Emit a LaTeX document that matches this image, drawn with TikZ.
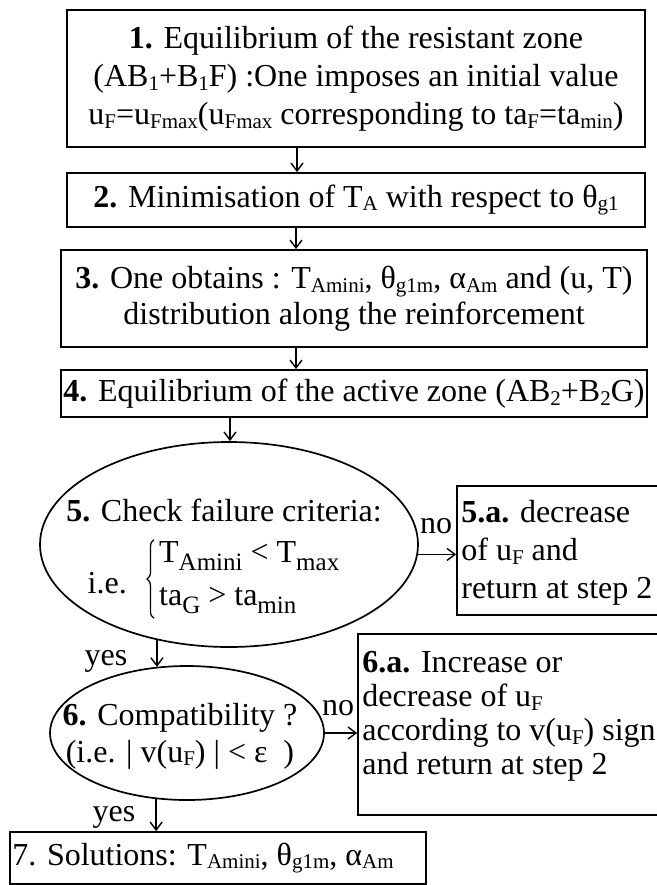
\documentclass[tikz,border=0pt]{standalone}
\usepackage{fontspec}
\setmainfont{Liberation Serif}
\usetikzlibrary{shapes.geometric,arrows.meta,decorations.pathreplacing}
\newcommand\sbs[1]{\raisebox{-0.12em}{\fontsize{21}{21}\selectfont #1}}
\newcommand\sbb[1]{\raisebox{-0.25em}{\fontsize{25}{25}\selectfont #1}}
\begin{document}
\begin{tikzpicture}[x=1pt,y=-1pt,
  box/.style={draw, line width=1.7pt, inner sep=0pt},
  txt/.style={font=\fontsize{32}{38}\selectfont, inner sep=0pt, align=center},
  arr/.style={-{Straight Barb[length=8pt,width=12pt]}, line width=1.4pt},
  ell/.style={draw, ellipse, line width=1.7pt, inner sep=0pt},
  bracestyle/.style={decorate, decoration={brace, amplitude=7pt}, line width=1.2pt},
]
\useasboundingbox (0,0) rectangle (656,885);
% boxes
\node[box, txt, minimum width=578pt, minimum height=137pt] (b1) at (356,78.5)
  {\textbf{1.} Equilibrium of the resistant zone\\(AB\sbs{1}+B\sbs{1}F) :One imposes an initial value\\u\sbs{F}=u\sbs{Fmax}(u\sbs{Fmax} corresponding to ta\sbs{F}=ta\sbs{min})};
\node[box, txt, minimum width=578pt, minimum height=54pt] (b2) at (356,200)
  {\textbf{2.} Minimisation of T\sbs{A} with respect to θ\sbs{g1}};
\node[box, txt, font=\fontsize{32}{36}\selectfont, minimum width=586pt, minimum height=97pt] (b3) at (354,298.5)
  {\textbf{3.} One obtains : T\sbs{Amini}, θ\sbs{g1m}, α\sbs{Am} and (u, T)\\distribution along the reinforcement};
\node[box, txt, minimum width=586pt, minimum height=47pt] (b4) at (354,393.5)
  {\textbf{4.} Equilibrium of the active zone (AB\sbs{2}+B\sbs{2}G)};
\node[box, minimum width=208pt, minimum height=129pt] (b5a) at (561,550.5) {};
\node[txt, align=left, anchor=west] (t5a) at ([xshift=5pt,yshift=-2pt]b5a.west)
  {\textbf{5.a.} decrease\\of u\sbs{F} and\\return at step 2};
\node[box, minimum width=307pt, minimum height=181pt] (b6a) at (511.5,724.5) {};
\node[txt, font=\fontsize{32}{34}\selectfont, align=left, anchor=west] (t6a) at ([xshift=5pt,yshift=8pt]b6a.west)
  {\textbf{6.a.} Increase or\\decrease of u\sbs{F}\\according to v(u\sbs{F}) sign\\and return at step 2};
\node[box, minimum width=416pt, minimum height=52pt] (b7) at (218,858) {};
\node[txt, anchor=west] (t7) at ([xshift=3pt]b7.west)
  {7. Solutions: T\sbs{Amini}, θ\sbs{g1m}, α\sbs{Am}};
% ellipses
\node[ell, minimum width=378pt, minimum height=205pt] (e5) at (229,544.5) {};
\node[txt] (t5) at (224,510) {\textbf{5.} Check failure criteria:};
\node[txt, anchor=east] (t5b) at (127,583) {i.e.};
\node[txt, anchor=west, align=left, font=\fontsize{32}{43}\selectfont] (t5c) at (159,578)
  {T\sbb{Amini} < T\sbb{max}\\ta\sbb{G} > ta\sbb{min}};
\draw[bracestyle] ([xshift=-5pt,yshift=-4pt]t5c.south west) -- ([xshift=-5pt,yshift=2pt]t5c.north west);
\node[ell, minimum width=274pt, minimum height=134pt] (e6) at (187,733) {};
\node[txt, font=\fontsize{32}{37}\selectfont] (t6) at (180,736)
  {\textbf{6.} Compatibility ?\\(i.e. | v(u\sbs{F}) | < ε\ \ )};
% labels
\node[txt] (no5) at (436,526) {no};
\node[txt] (yes5) at (106,661) {yes};
\node[txt] (no6) at (338,708) {no};
\node[txt] (yes6) at (114,817) {yes};
% connectors
\coordinate (x297) at (297,0);
\coordinate (x296) at (296,0);
\coordinate (x230) at (230,0);
\draw[arr] (b1.south -| x297) -- (b2.north -| x297);
\draw[arr] (b2.south -| x296) -- (b3.north -| x296);
\draw[arr] (b3.south -| x296) -- (b4.north -| x296);
\draw[arr] (b4.south -| x230) -- (e5.north -| x230);
\draw[arr] (e5.357) -- (e5.357 -| b5a.west);
\draw[arr] (e5.233) -- (e5.233 |- e6.115);
\draw[arr] (e6.east) -- (e6.east -| b6a.west);
\draw[arr] (e6.245) -- (e6.245 |- b7.north);
\end{tikzpicture}
\end{document}
